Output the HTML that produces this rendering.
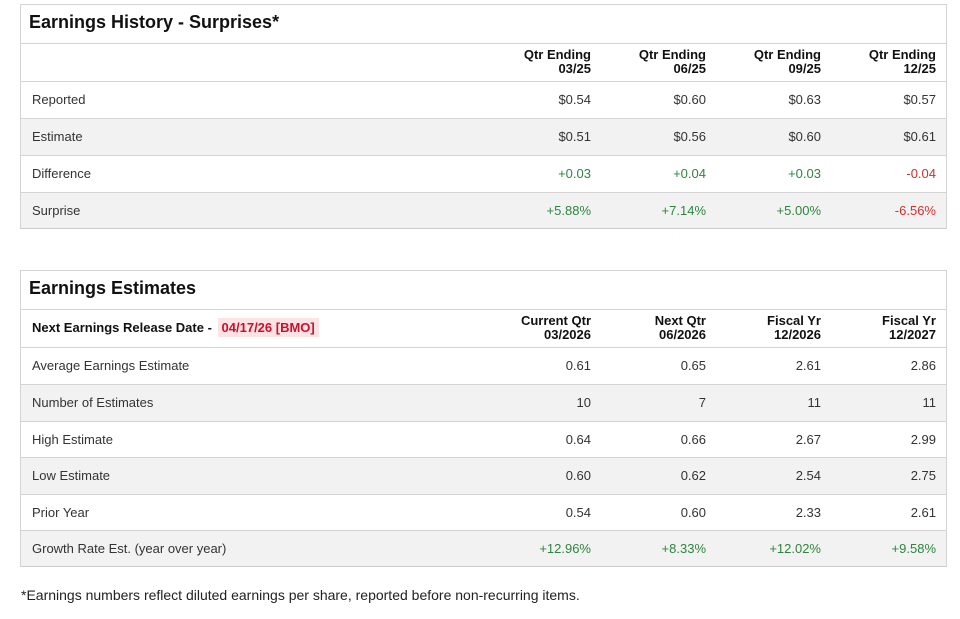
<!DOCTYPE html>
<html><head><meta charset="utf-8"><style>
body{margin:0;background:#fff;width:960px;height:619px;position:relative;font-family:"Liberation Sans","DejaVu Sans",sans-serif;color:#222;overflow:hidden}
.box{position:absolute;left:20px;width:925px;border:1px solid #d4d4d4;border-bottom:1px solid #ccc}
.r{position:absolute;left:0;width:925px;border-top:1px solid #d4d4d4;box-sizing:border-box}
.g{background:#f2f2f2}
.t{position:absolute;left:8px;font-size:18px;font-weight:bold;color:#111}
.l{position:absolute;left:11px;top:10px;font-size:13px;color:#333}
.v{position:absolute;top:10px;font-size:13px;text-align:right;width:100px;color:#333}
.h{position:absolute;top:4px;font-size:13px;font-weight:bold;text-align:right;width:110px;line-height:14px;color:#111}
.p{color:#2e8540}.n{color:#d32f2f}
</style></head><body>
<div class="box" style="top:4px;height:223px">
<div class="t" style="top:7px">Earnings History - Surprises*</div>
<div class="r" style="top:38px;height:38px">
<div class="h" style="left:460px">Qtr Ending<br>03/25</div>
<div class="h" style="left:575px">Qtr Ending<br>06/25</div>
<div class="h" style="left:690px">Qtr Ending<br>09/25</div>
<div class="h" style="left:805px">Qtr Ending<br>12/25</div>
</div>
<div class="r" style="top:76px;height:37px"><div class="l">Reported</div>
<div class="v" style="left:470px">$0.54</div><div class="v" style="left:585px">$0.60</div><div class="v" style="left:700px">$0.63</div><div class="v" style="left:815px">$0.57</div></div>
<div class="r g" style="top:113px;height:37px"><div class="l">Estimate</div>
<div class="v" style="left:470px">$0.51</div><div class="v" style="left:585px">$0.56</div><div class="v" style="left:700px">$0.60</div><div class="v" style="left:815px">$0.61</div></div>
<div class="r" style="top:150px;height:37px"><div class="l">Difference</div>
<div class="v p" style="left:470px">+0.03</div><div class="v p" style="left:585px">+0.04</div><div class="v p" style="left:700px">+0.03</div><div class="v n" style="left:815px">-0.04</div></div>
<div class="r g" style="top:187px;height:36px"><div class="l">Surprise</div>
<div class="v p" style="left:470px">+5.88%</div><div class="v p" style="left:585px">+7.14%</div><div class="v p" style="left:700px">+5.00%</div><div class="v n" style="left:815px">-6.56%</div></div>
</div>

<div class="box" style="top:270px;height:295px">
<div class="t" style="top:7px">Earnings Estimates</div>
<div class="r" style="top:38px;height:38px">
<div class="l" style="font-weight:bold;color:#111">Next Earnings Release Date - <span style="background:#fde3e3;color:#c8102e;padding:2px 4px;margin-left:2px">04/17/26 [BMO]</span></div>
<div class="h" style="left:460px">Current Qtr<br>03/2026</div>
<div class="h" style="left:575px">Next Qtr<br>06/2026</div>
<div class="h" style="left:690px">Fiscal Yr<br>12/2026</div>
<div class="h" style="left:805px">Fiscal Yr<br>12/2027</div>
</div>
<div class="r" style="top:76px;height:37px"><div class="l">Average Earnings Estimate</div>
<div class="v" style="left:470px">0.61</div><div class="v" style="left:585px">0.65</div><div class="v" style="left:700px">2.61</div><div class="v" style="left:815px">2.86</div></div>
<div class="r g" style="top:113px;height:37px"><div class="l">Number of Estimates</div>
<div class="v" style="left:470px">10</div><div class="v" style="left:585px">7</div><div class="v" style="left:700px">11</div><div class="v" style="left:815px">11</div></div>
<div class="r" style="top:150px;height:36px"><div class="l">High Estimate</div>
<div class="v" style="left:470px">0.64</div><div class="v" style="left:585px">0.66</div><div class="v" style="left:700px">2.67</div><div class="v" style="left:815px">2.99</div></div>
<div class="r g" style="top:186px;height:37px"><div class="l">Low Estimate</div>
<div class="v" style="left:470px">0.60</div><div class="v" style="left:585px">0.62</div><div class="v" style="left:700px">2.54</div><div class="v" style="left:815px">2.75</div></div>
<div class="r" style="top:223px;height:36px"><div class="l">Prior Year</div>
<div class="v" style="left:470px">0.54</div><div class="v" style="left:585px">0.60</div><div class="v" style="left:700px">2.33</div><div class="v" style="left:815px">2.61</div></div>
<div class="r g" style="top:259px;height:36px"><div class="l">Growth Rate Est. (year over year)</div>
<div class="v p" style="left:470px">+12.96%</div><div class="v p" style="left:585px">+8.33%</div><div class="v p" style="left:700px">+12.02%</div><div class="v p" style="left:815px">+9.58%</div></div>
</div>
<div style="position:absolute;left:21px;top:587px;font-size:14px;color:#222">*Earnings numbers reflect diluted earnings per share, reported before non-recurring items.</div>
</body></html>
